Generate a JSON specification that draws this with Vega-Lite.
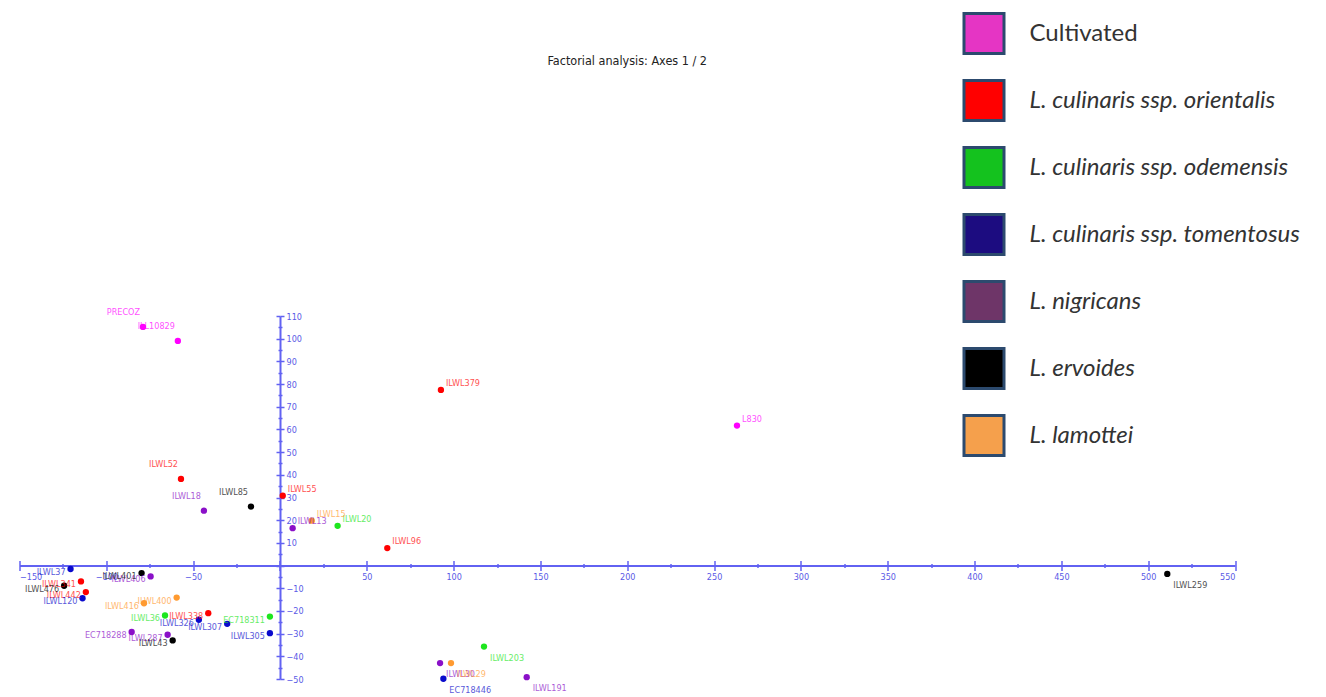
{
  "$schema": "https://vega.github.io/schema/vega-lite/v6.json",
  "width": 1215.5,
  "height": 363,
  "autosize": "none",
  "padding": {"left": 19.5, "top": 316, "right": 91, "bottom": 18},
  "background": "white",
  "title": {
    "text": "Factorial analysis: Axes 1 / 2",
    "anchor": "middle",
    "baseline": "middle",
    "offset": -61.5,
    "font": "'DejaVu Sans Condensed', 'Liberation Sans', sans-serif",
    "fontSize": 12.5,
    "fontWeight": "normal",
    "color": "#222222"
  },
  "config": {
    "view": {"stroke": null},
    "axis": {
      "grid": false,
      "domainColor": "#6262f2",
      "domainWidth": 2,
      "tickColor": "#6262f2",
      "tickWidth": 1.5,
      "labelFont": "'DejaVu Sans Condensed', 'Liberation Sans', sans-serif",
      "labelFontSize": 9,
      "labelColor": "#5a5ae6",
      "title": null
    },
    "legend": {
      "orient": "none",
      "padding": 0
    }
  },
  "data": {
    "values": [
      {"name": "PRECOZ", "group": "Cultivated", "x": -78.9, "y": 105.2},
      {"name": "ILL10829", "group": "Cultivated", "x": -58.8, "y": 99.0},
      {"name": "L830", "group": "Cultivated", "x": 263.2, "y": 61.7},
      {"name": "ILWL379", "group": "L. culinaris ssp. orientalis", "x": 92.7, "y": 77.4},
      {"name": "ILWL52", "group": "L. culinaris ssp. orientalis", "x": -57.0, "y": 38.2},
      {"name": "ILWL55", "group": "L. culinaris ssp. orientalis", "x": 1.6, "y": 30.8},
      {"name": "ILWL96", "group": "L. culinaris ssp. orientalis", "x": 61.8, "y": 7.7},
      {"name": "ILWL341", "group": "L. culinaris ssp. orientalis", "x": -114.6, "y": -7.0},
      {"name": "ILWL442", "group": "L. culinaris ssp. orientalis", "x": -111.8, "y": -11.7},
      {"name": "ILWL338", "group": "L. culinaris ssp. orientalis", "x": -41.3, "y": -21.0},
      {"name": "ILWL20", "group": "L. culinaris ssp. odemensis", "x": 33.2, "y": 17.5},
      {"name": "ILWL36", "group": "L. culinaris ssp. odemensis", "x": -66.2, "y": -22.0},
      {"name": "EC718311", "group": "L. culinaris ssp. odemensis", "x": -5.8, "y": -22.5},
      {"name": "ILWL203", "group": "L. culinaris ssp. odemensis", "x": 117.5, "y": -35.7},
      {"name": "ILWL37", "group": "L. culinaris ssp. tomentosus", "x": -120.6, "y": -1.5},
      {"name": "ILWL120", "group": "L. culinaris ssp. tomentosus", "x": -113.7, "y": -14.4},
      {"name": "ILWL326", "group": "L. culinaris ssp. tomentosus", "x": -46.7, "y": -23.9},
      {"name": "ILWL307", "group": "L. culinaris ssp. tomentosus", "x": -30.4, "y": -25.7},
      {"name": "ILWL305", "group": "L. culinaris ssp. tomentosus", "x": -5.8, "y": -29.8},
      {"name": "EC718446", "group": "L. culinaris ssp. tomentosus", "x": 94.1, "y": -49.9},
      {"name": "ILWL18", "group": "L. nigricans", "x": -43.8, "y": 24.2},
      {"name": "ILWL13", "group": "L. nigricans", "x": 7.3, "y": 16.5},
      {"name": "ILWL406", "group": "L. nigricans", "x": -74.5, "y": -4.8},
      {"name": "EC718288", "group": "L. nigricans", "x": -85.4, "y": -29.3},
      {"name": "ILWL287", "group": "L. nigricans", "x": -64.7, "y": -30.5},
      {"name": "ILWL30", "group": "L. nigricans", "x": 92.2, "y": -43.0},
      {"name": "ILWL191", "group": "L. nigricans", "x": 142.1, "y": -49.2},
      {"name": "ILWL85", "group": "L. ervoides", "x": -16.7, "y": 26.0},
      {"name": "ILWL259", "group": "L. ervoides", "x": 511.0, "y": -3.7},
      {"name": "ILWL401", "group": "L. ervoides", "x": -79.7, "y": -3.3},
      {"name": "ILWL476", "group": "L. ervoides", "x": -124.3, "y": -8.9},
      {"name": "ILWL43", "group": "L. ervoides", "x": -61.8, "y": -33.0},
      {"name": "ILWL15", "group": "L. lamottei", "x": 18.3, "y": 19.8},
      {"name": "ILWL400", "group": "L. lamottei", "x": -59.5, "y": -14.1},
      {"name": "ILWL416", "group": "L. lamottei", "x": -78.3, "y": -16.6},
      {"name": "ILWL29", "group": "L. lamottei", "x": 98.5, "y": -43.0}
    ]
  },
  "layer": [
    {
      "mark": {"type": "square", "opacity": 0},
      "encoding": {
        "x": {
          "field": "x", "type": "quantitative",
          "scale": {"domain": [-150, 550], "nice": false, "zero": false},
          "axis": {
            "orient": "top",
            "offset": -249.56,
            "domain": false,
            "labels": false,
            "values": [-150, -125, -100, -75, -50, -25, 0, 25, 50, 75, 100, 125, 150, 175, 200, 225, 250, 275, 300, 325, 350, 375, 400, 425, 450, 475, 500, 525, 550],
            "tickSize": {"condition": {"test": "datum.value % 50 == 0", "value": 5}, "value": 2}
          }
        },
        "y": {
          "field": "y", "type": "quantitative",
          "scale": {"domain": [-50, 110], "nice": false, "zero": false},
          "axis": {
            "orient": "left",
            "offset": -260.5,
            "domain": false,
            "labels": false,
            "values": [-50, -45, -40, -35, -30, -25, -20, -15, -10, -5, 0, 5, 10, 15, 20, 25, 30, 35, 40, 45, 50, 55, 60, 65, 70, 75, 80, 85, 90, 95, 100, 105, 110],
            "tickSize": {"condition": {"test": "datum.value % 10 == 0", "value": 4}, "value": 2}
          }
        },
        "fill": {
          "field": "group", "type": "nominal",
          "scale": {
            "domain": ["Cultivated", "L. culinaris ssp. orientalis", "L. culinaris ssp. odemensis", "L. culinaris ssp. tomentosus", "L. nigricans", "L. ervoides", "L. lamottei"],
            "range": ["#e535c4", "#ff0000", "#14c21e", "#1c0c80", "#6e3568", "#000000", "#f5a04c"]
          },
          "legend": {
            "title": null,
            "orient": "none",
            "legendX": 943,
            "legendY": -304,
            "symbolType": "square",
            "symbolSize": 1600,
            "symbolStrokeColor": "#2c4a6e",
            "symbolStrokeWidth": 3,
            "symbolOpacity": 1,
            "rowPadding": 14,
            "labelOffset": 24,
            "labelFont": "Lato",
            "labelFontSize": 24,
            "labelColor": "#333333",
            "labelLimit": 400,
            "labelFontStyle": {"expr": "datum.label == 'Cultivated' ? 'normal' : 'italic'"}
          }
        }
      }
    },
    {
      "mark": {"type": "circle", "size": 40, "opacity": 1},
      "encoding": {
        "x": {
          "field": "x", "type": "quantitative",
          "axis": {
            "orient": "bottom",
            "offset": -113.44,
            "values": [-150, -125, -100, -75, -50, -25, 0, 25, 50, 75, 100, 125, 150, 175, 200, 225, 250, 275, 300, 325, 350, 375, 400, 425, 450, 475, 500, 525, 550],
            "labelExpr": "datum.value == 0 || datum.value % 50 != 0 ? '' : datum.label",
            "tickSize": {"condition": {"test": "datum.value % 50 == 0", "value": 5}, "value": 2},
            "labelPadding": 2
          }
        },
        "y": {
          "field": "y", "type": "quantitative",
          "axis": {
            "orient": "right",
            "offset": -955,
            "values": [-50, -45, -40, -35, -30, -25, -20, -15, -10, -5, 0, 5, 10, 15, 20, 25, 30, 35, 40, 45, 50, 55, 60, 65, 70, 75, 80, 85, 90, 95, 100, 105, 110],
            "labelExpr": "datum.value == 0 || datum.value % 10 != 0 ? '' : datum.label",
            "tickSize": {"condition": {"test": "datum.value % 10 == 0", "value": 4}, "value": 2},
            "labelPadding": 2
          }
        },
        "color": {
          "field": "group", "type": "nominal",
          "scale": {
            "domain": ["Cultivated", "L. culinaris ssp. orientalis", "L. culinaris ssp. odemensis", "L. culinaris ssp. tomentosus", "L. nigricans", "L. ervoides", "L. lamottei"],
            "range": ["#ff00ff", "#ff0000", "#1ee61e", "#0a0acc", "#8a10c8", "#000000", "#ff9a30"]
          },
          "legend": null
        }
      }
    },
    {
      "transform": [{"filter": {"field": "name", "oneOf": ["PRECOZ", "ILL10829", "ILWL52", "ILWL18", "ILWL85"]}}],
      "mark": {"type": "text", "align": "right", "baseline": "middle", "dx": -3, "dy": -15, "font": "'DejaVu Sans Condensed', 'Liberation Sans', sans-serif", "fontSize": 9, "opacity": 0.7},
      "encoding": {
        "x": {"field": "x", "type": "quantitative", "axis": null},
        "y": {"field": "y", "type": "quantitative", "axis": null},
        "text": {"field": "name"},
        "color": {"field": "group", "type": "nominal", "legend": null}
      }
    },
    {
      "transform": [{"filter": {"field": "name", "oneOf": ["L830", "ILWL379", "ILWL55", "ILWL96", "ILWL20", "ILWL15", "ILWL13"]}}],
      "mark": {"type": "text", "align": "left", "baseline": "middle", "dx": 5, "dy": -7, "font": "'DejaVu Sans Condensed', 'Liberation Sans', sans-serif", "fontSize": 9, "opacity": 0.7},
      "encoding": {
        "x": {"field": "x", "type": "quantitative", "axis": null},
        "y": {"field": "y", "type": "quantitative", "axis": null},
        "text": {"field": "name"},
        "color": {"field": "group", "type": "nominal", "legend": null}
      }
    },
    {
      "transform": [{"filter": {"field": "name", "oneOf": ["ILWL259", "ILWL203", "ILWL191", "EC718446", "ILWL30", "ILWL29"]}}],
      "mark": {"type": "text", "align": "left", "baseline": "middle", "dx": 6, "dy": 11, "font": "'DejaVu Sans Condensed', 'Liberation Sans', sans-serif", "fontSize": 9, "opacity": 0.7},
      "encoding": {
        "x": {"field": "x", "type": "quantitative", "axis": null},
        "y": {"field": "y", "type": "quantitative", "axis": null},
        "text": {"field": "name"},
        "color": {"field": "group", "type": "nominal", "legend": null}
      }
    },
    {
      "transform": [{"filter": {"not": {"field": "name", "oneOf": ["PRECOZ", "ILL10829", "ILWL52", "ILWL18", "ILWL85", "L830", "ILWL379", "ILWL55", "ILWL96", "ILWL20", "ILWL15", "ILWL13", "ILWL259", "ILWL203", "ILWL191", "EC718446", "ILWL30", "ILWL29"]}}}],
      "mark": {"type": "text", "align": "right", "baseline": "middle", "dx": -5, "dy": 3, "font": "'DejaVu Sans Condensed', 'Liberation Sans', sans-serif", "fontSize": 9, "opacity": 0.7},
      "encoding": {
        "x": {"field": "x", "type": "quantitative", "axis": null},
        "y": {"field": "y", "type": "quantitative", "axis": null},
        "text": {"field": "name"},
        "color": {"field": "group", "type": "nominal", "legend": null}
      }
    }
  ],
  "resolve": {"axis": {"x": "independent", "y": "independent"}}
}
